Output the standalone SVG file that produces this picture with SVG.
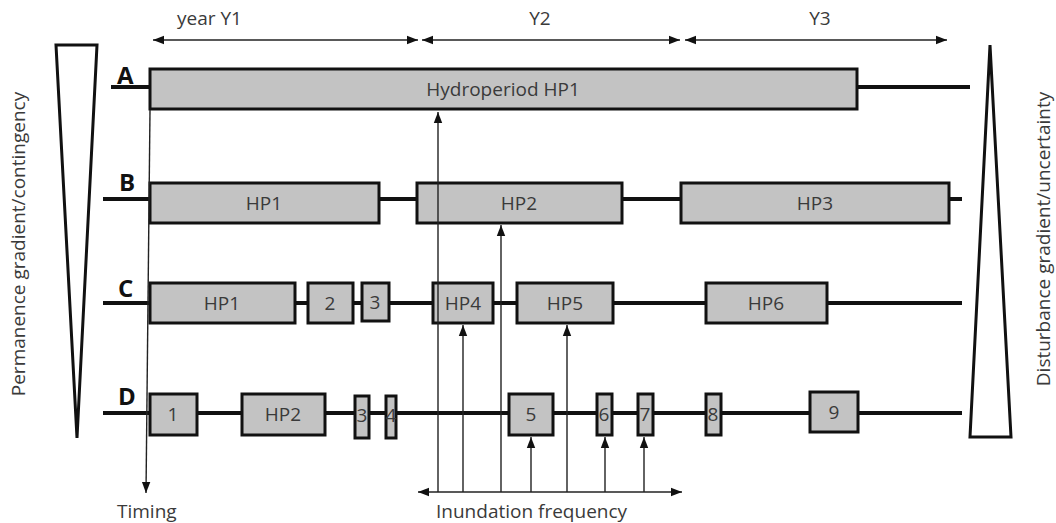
<svg xmlns="http://www.w3.org/2000/svg" width="1056" height="523" viewBox="0 0 1056 523">
<style>
  .t{font-family:"Open Sans","Liberation Sans",sans-serif;font-size:19px;fill:#3a3a3a}
  .c{text-anchor:middle}
  .lbl{font-family:"Open Sans","Liberation Sans",sans-serif;font-size:24px;font-weight:bold;fill:#111}
  .box{fill:#c3c3c3;stroke:#111;stroke-width:3}
  .tl{stroke:#111;stroke-width:4;fill:none}
  .ar{stroke:#222;stroke-width:1.4;fill:none}
  .tri{fill:#fff;stroke:#111;stroke-width:3;stroke-linejoin:miter}
</style>
<defs>
  <marker id="ah" markerUnits="userSpaceOnUse" markerWidth="12" markerHeight="10" refX="11" refY="5" orient="auto-start-reverse">
    <path d="M0,0.8 L11,5 L0,9.2 z" fill="#111"/>
  </marker>
</defs>
<rect width="1056" height="523" fill="#fff"/>

<g id="gradients">
  <polygon class="tri" points="56,45 97,45 77,438"/>
  <polygon class="tri" points="990,45 1011,437 970,437"/>
  <text class="t c" transform="translate(25,244) rotate(-90)">Permanence gradient/contingency</text>
  <text class="t c" transform="translate(1050,239) rotate(-90)">Disturbance gradient/uncertainty</text>
</g>

<g id="years">
  <text class="t" x="177" y="25">year Y1</text>
  <text class="t c" x="540" y="25">Y2</text>
  <text class="t c" x="820" y="25">Y3</text>
</g>

<g id="timelines">
  <line class="tl" x1="111" y1="87" x2="970" y2="87"/>
  <line class="tl" x1="103" y1="199" x2="962" y2="199"/>
  <line class="tl" x1="103" y1="303" x2="962" y2="303"/>
  <line class="tl" x1="103" y1="413" x2="962" y2="413"/>
  <text class="lbl" x="117" y="84">A</text>
  <text class="lbl" x="119" y="191">B</text>
  <text class="lbl" x="118" y="297">C</text>
  <text class="lbl" x="118" y="405">D</text>
</g>

<g id="rowA">
  <rect class="box" x="150" y="69" width="707" height="40"/>
  <text class="t c" x="503" y="96">Hydroperiod HP1</text>
</g>

<g id="rowB">
  <rect class="box" x="150" y="183" width="229" height="40"/>
  <text class="t c" x="264" y="210">HP1</text>
  <rect class="box" x="417" y="183" width="205" height="40"/>
  <text class="t c" x="519" y="210">HP2</text>
  <rect class="box" x="681" y="183" width="268" height="40"/>
  <text class="t c" x="815" y="210">HP3</text>
</g>

<g id="rowC">
  <rect class="box" x="150" y="283" width="145" height="40"/>
  <text class="t c" x="222" y="310">HP1</text>
  <rect class="box" x="308" y="283" width="45" height="40"/>
  <text class="t c" x="330" y="310">2</text>
  <rect class="box" x="362" y="283" width="27" height="38"/>
  <text class="t c" x="375" y="309">3</text>
  <rect class="box" x="433" y="283" width="60" height="40"/>
  <text class="t c" x="463" y="310">HP4</text>
  <rect class="box" x="517" y="283" width="96" height="40"/>
  <text class="t c" x="565" y="310">HP5</text>
  <rect class="box" x="706" y="283" width="121" height="40"/>
  <text class="t c" x="766" y="310">HP6</text>
</g>

<g id="rowD">
  <rect class="box" x="150" y="394" width="47" height="41"/>
  <text class="t c" x="173" y="421">1</text>
  <rect class="box" x="242" y="394" width="83" height="41"/>
  <text class="t c" x="283" y="421">HP2</text>
  <rect class="box" x="355" y="396" width="14" height="42"/>
  <text class="t c" x="362" y="422">3</text>
  <rect class="box" x="386" y="396" width="10" height="42"/>
  <text class="t c" x="391" y="422">4</text>
  <rect class="box" x="509" y="394" width="44" height="41"/>
  <text class="t c" x="531" y="421">5</text>
  <rect class="box" x="597" y="394" width="15" height="41"/>
  <text class="t c" x="604" y="421">6</text>
  <rect class="box" x="638" y="394" width="15" height="41"/>
  <text class="t c" x="645" y="421">7</text>
  <rect class="box" x="706" y="394" width="15" height="41"/>
  <text class="t c" x="713" y="421">8</text>
  <rect class="box" x="810" y="392" width="48" height="40"/>
  <text class="t c" x="834" y="419">9</text>
</g>

<g id="connectors">
  <line class="ar" x1="153" y1="40" x2="418" y2="40" marker-start="url(#ah)" marker-end="url(#ah)"/>
  <line class="ar" x1="422" y1="40" x2="680" y2="40" marker-start="url(#ah)" marker-end="url(#ah)"/>
  <line class="ar" x1="685" y1="40" x2="947" y2="40" marker-start="url(#ah)" marker-end="url(#ah)"/>
  <line class="ar" x1="150" y1="110" x2="146" y2="493" marker-end="url(#ah)"/>
  <line class="ar" x1="418" y1="492" x2="682" y2="492" marker-start="url(#ah)" marker-end="url(#ah)"/>
  <line class="ar" x1="438" y1="492" x2="438" y2="112" marker-end="url(#ah)"/>
  <line class="ar" x1="463" y1="492" x2="463" y2="325" marker-end="url(#ah)"/>
  <line class="ar" x1="501" y1="492" x2="501" y2="225" marker-end="url(#ah)"/>
  <line class="ar" x1="531" y1="492" x2="531" y2="437" marker-end="url(#ah)"/>
  <line class="ar" x1="567" y1="492" x2="567" y2="325" marker-end="url(#ah)"/>
  <line class="ar" x1="605" y1="492" x2="605" y2="437" marker-end="url(#ah)"/>
  <line class="ar" x1="644" y1="492" x2="644" y2="437" marker-end="url(#ah)"/>
</g>

<g id="axisLabels">
  <text class="t" x="117" y="518">Timing</text>
  <text class="t" x="436" y="518">Inundation frequency</text>
</g>
</svg>
